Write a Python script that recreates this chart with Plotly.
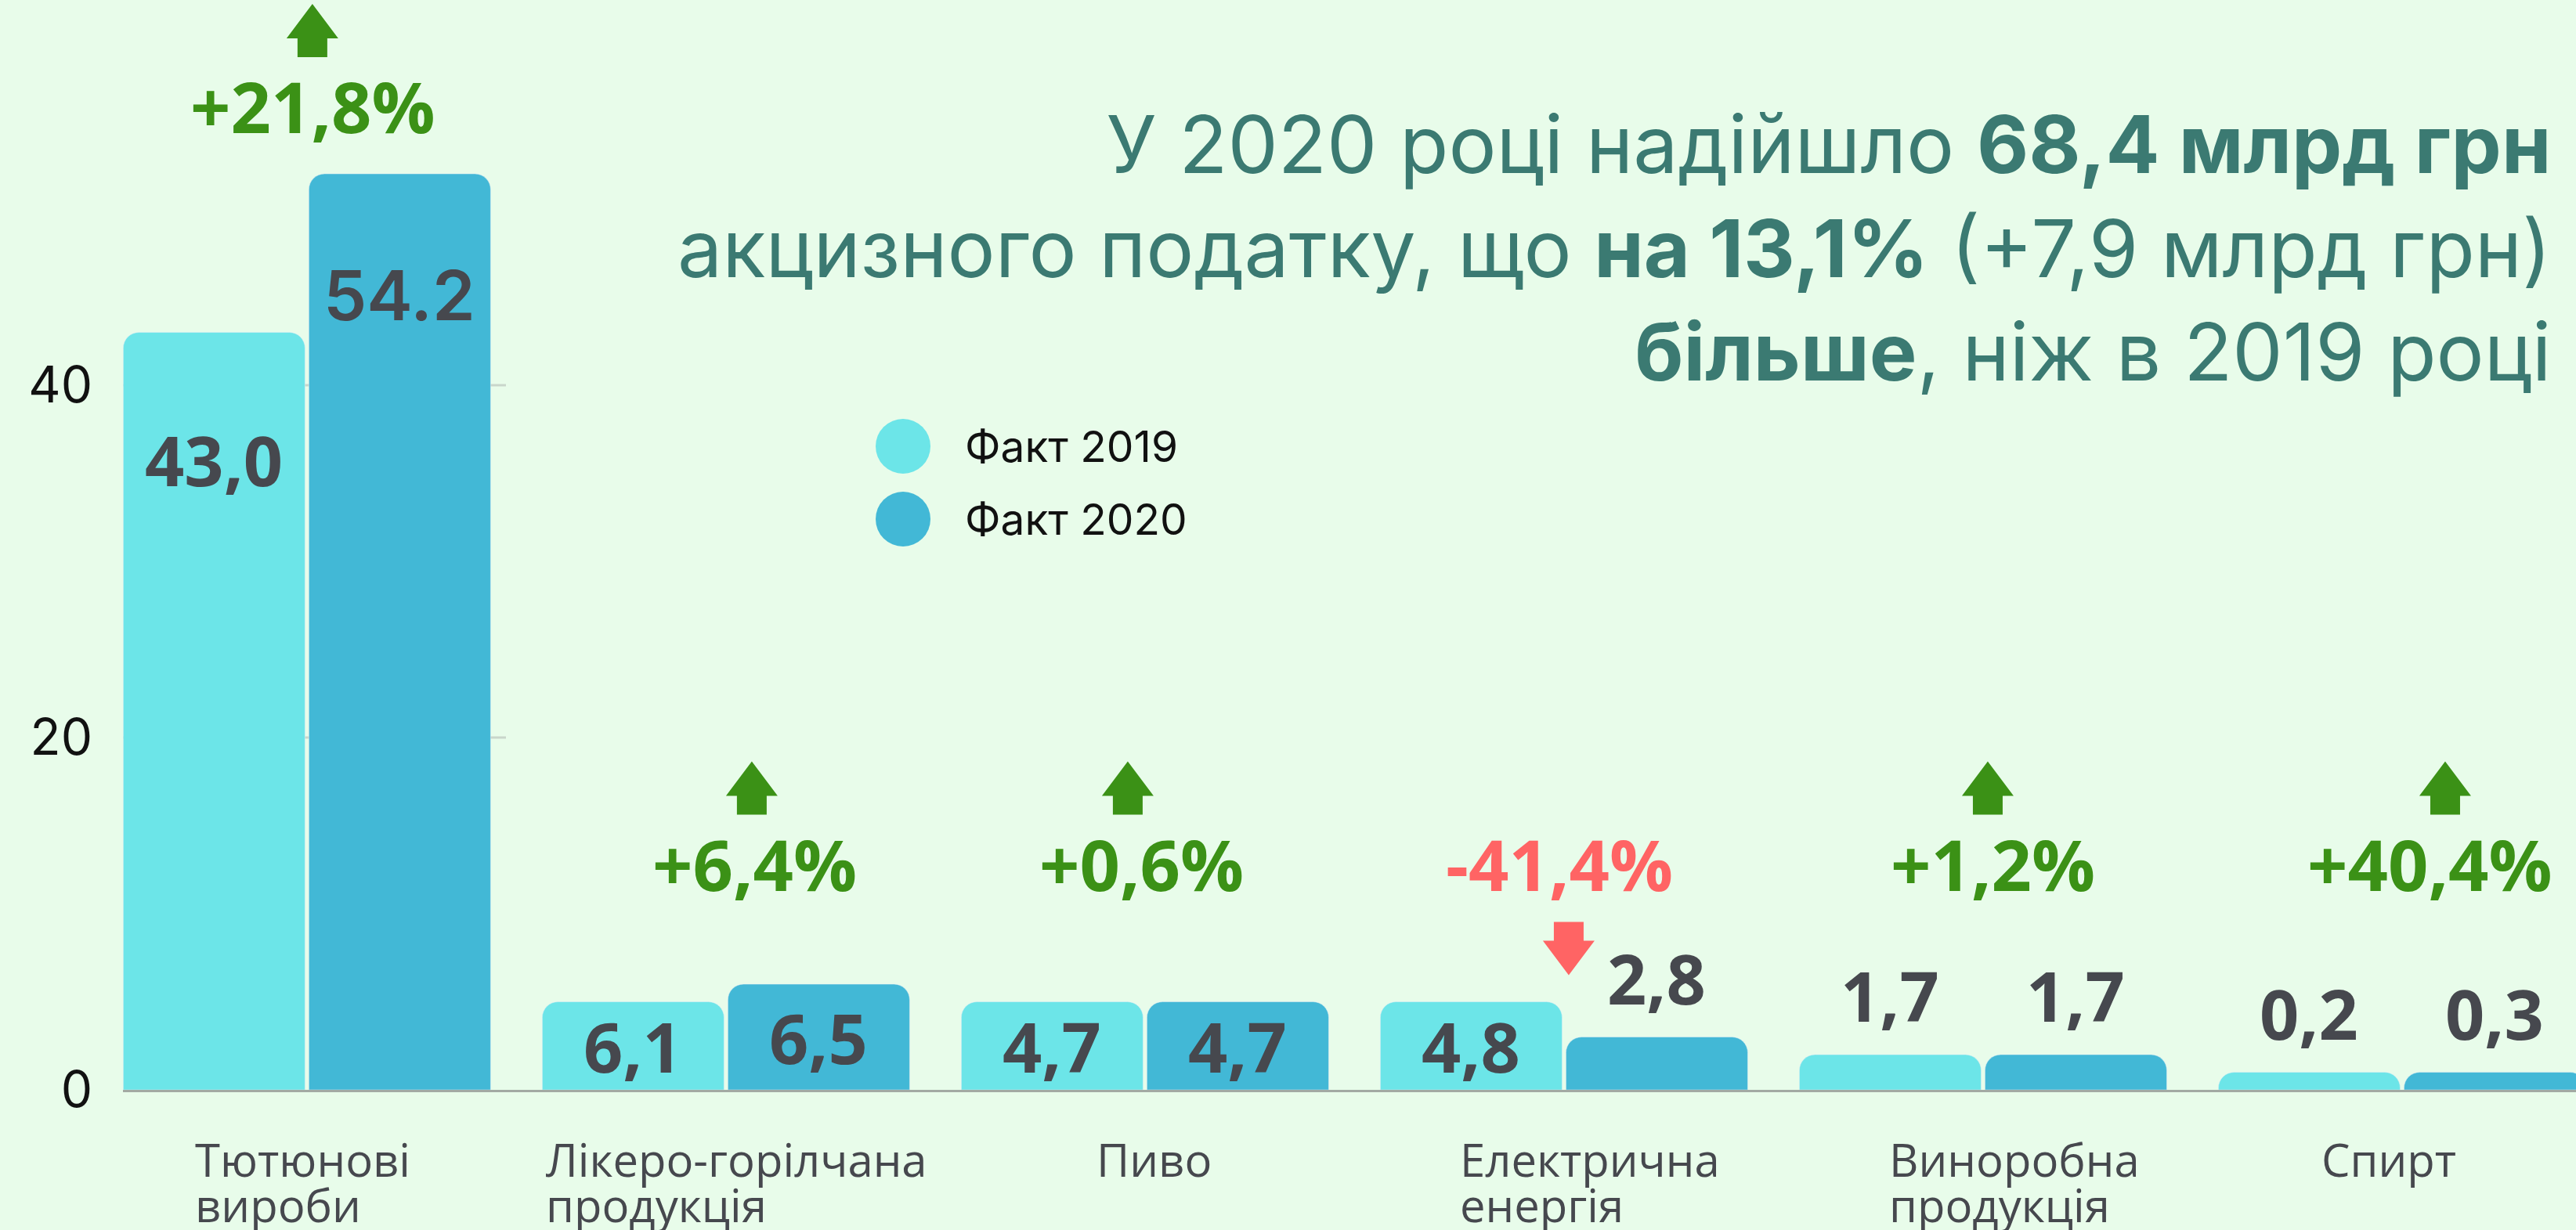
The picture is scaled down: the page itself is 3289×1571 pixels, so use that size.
import plotly.graph_objects as go

# excise revenue by product group, bln UAH (bar heights as drawn in the source)
categories = ["Тютюнові<br>вироби", "Лікеро-горілчана<br>продукція", "Пиво",
              "Електрична<br>енергія", "Виноробна<br>продукція", "Спирт"]
fact_2019 = [43.0, 5.0, 5.0, 5.0, 2.0, 1.0]
fact_2020 = [52.0, 6.0, 5.0, 3.0, 2.0, 1.0]
labels_2019 = ["43,0", "6,1", "4,7", "4,8", "1,7", "0,2"]
labels_2020 = ["54.2", "6,5", "4,7", "2,8", "1,7", "0,3"]
change = ["+21,8%", "+6,4%", "+0,6%", "-41,4%", "+1,2%", "+40,4%"]
y_ticks = [0, 20, 40]

BG = "#E8FCEA"
C2019 = "#6CE5E8"
C2020 = "#42B8D6"
TEXT = "#46484E"
GREEN = "#3B9116"
RED = "#FF6464"
TEAL = "#3B7A72"

W, H = 3289, 1571
L, B = 157, 179
PW, PH = W - L, H - B
PX_PER_UNIT = 22.5

# small horizontal nudges (px) as placed in the source
change_dx = [8, 37, -4, -6, 13, 36]
arrow_dx = [7, 33, -22, 6, 6, 55]
label_left_dx = [-145, -232, -64, -135, -122, -105]


def paper_x(px):
    return (px - L) / PW


def paper_y(py):
    return 1 - py / PH


def arrow_path(pts, dx, dy):
    return "M " + " L ".join(f"{x + dx} {y + dy}" for x, y in pts) + " Z"


UP = [(0, 34), (33, -10), (19, -10), (19, -34), (-19, -34), (-19, -10), (-33, -10)]
DOWN = [(x, -y) for x, y in UP]

fig = go.Figure()
fig.add_trace(go.Bar(x=categories, y=fact_2019, name="Факт 2019",
                     marker=dict(color=C2019, cornerradius=20), hoverinfo="skip"))
fig.add_trace(go.Bar(x=categories, y=fact_2020, name="Факт 2020",
                     marker=dict(color=C2020, cornerradius=20), hoverinfo="skip"))

annotations = []
shapes = []
half = 118.5

# value labels
for i in range(len(categories)):
    for v, lab, sx in ((fact_2019[i], labels_2019[i], -half), (fact_2020[i], labels_2020[i], half)):
        fam = "Inter" if "." in lab else "Open Sans"
        wt = 600 if "." in lab else 700
        if v >= 20:
            y, ya, ys = v, "top", -100
        elif v >= 4:
            y, ya, ys = v / 2, "middle", 0
        else:
            y, ya, ys = v, "bottom", 14
        annotations.append(dict(x=i, y=y, xref="x", yref="y", text=lab, showarrow=False,
                                xshift=sx, yshift=ys, yanchor=ya,
                                font=dict(family=fam, size=88, color=TEXT, weight=wt)))

# change labels and arrows
for i, ch in enumerate(change):
    up = ch.startswith("+")
    col = GREEN if up else RED
    yv = max(fact_2019[i], fact_2020[i], 9)
    annotations.append(dict(x=i, y=yv, xref="x", yref="y", text=ch, showarrow=False,
                            xshift=change_dx[i], yshift=87, yanchor="middle",
                            font=dict(family="Open Sans", size=90, color=col, weight=700)))
    path = arrow_path(UP, arrow_dx[i], 87 + 96) if up else arrow_path(DOWN, arrow_dx[i], 87 - 109)
    shapes.append(dict(type="path", xref="x", yref="y", xsizemode="pixel", ysizemode="pixel",
                       xanchor=i, yanchor=yv, path=path,
                       fillcolor=col, line=dict(width=0), layer="above"))

# category labels: left-aligned lines with tight line spacing
for i, c in enumerate(categories):
    for k, line in enumerate(c.split("<br>")):
        annotations.append(dict(x=i, y=0, xref="x", yref="y", text=line, showarrow=False,
                                xanchor="left", yanchor="top",
                                xshift=label_left_dx[i], yshift=-47 - 58 * k,
                                font=dict(family="Open Sans", size=58, color=TEXT)))

# short grid segments
for t in y_ticks[1:]:
    shapes.append(dict(type="line", xref="x", yref="y", x0=-0.44, x1=0.475, y0=t, y1=t,
                       line=dict(color="#C9D6CB", width=3), layer="below"))

# legend
for name, col, cy in (("Факт 2019", C2019, 570), ("Факт 2020", C2020, 663)):
    shapes.append(dict(type="circle", xref="paper", yref="paper", xsizemode="pixel",
                       ysizemode="pixel", xanchor=paper_x(1153), yanchor=paper_y(cy),
                       x0=-35, x1=35, y0=-35, y1=35, fillcolor=col, line=dict(width=0)))
    annotations.append(dict(x=paper_x(1230), y=paper_y(cy), xref="paper", yref="paper",
                            text=name, showarrow=False, xanchor="left", yanchor="middle",
                            font=dict(family="Inter", size=55, color="#111111")))

# headline
annotations.append(dict(
    x=paper_x(3259), y=paper_y(316), xref="paper", yref="paper", xanchor="right",
    yanchor="middle", align="right", showarrow=False,
    text=("У 2020 році надійшло <b>68,4 млрд грн</b><br>"
          "акцизного податку, що <b>на 13,1%</b> (+7,9 млрд грн)<br>"
          "<b>більше</b>, ніж в 2019 році"),
    font=dict(family="Inter", size=102, color=TEAL)))

fig.update_layout(
    width=W, height=H,
    margin=dict(l=L, r=0, t=0, b=B),
    paper_bgcolor=BG, plot_bgcolor=BG,
    barmode="group", bargap=0.114, bargroupgap=0.021,
    showlegend=False,
    annotations=annotations, shapes=shapes,
    xaxis=dict(range=[-0.439, 5.415], showticklabels=False, ticks="",
               showline=True, linecolor="#A2AAA3", linewidth=3, showgrid=False),
    yaxis=dict(range=[0, PH / PX_PER_UNIT], tickvals=y_ticks, showgrid=False,
               zeroline=False, ticklabelstandoff=38,
               tickfont=dict(family="Inter", size=64, color="#111111")),
)

fig.write_html("out.html", config={"displayModeBar": False},
               post_script="document.body.style.margin='0';"
                           "document.body.style.background='" + BG + "';")
